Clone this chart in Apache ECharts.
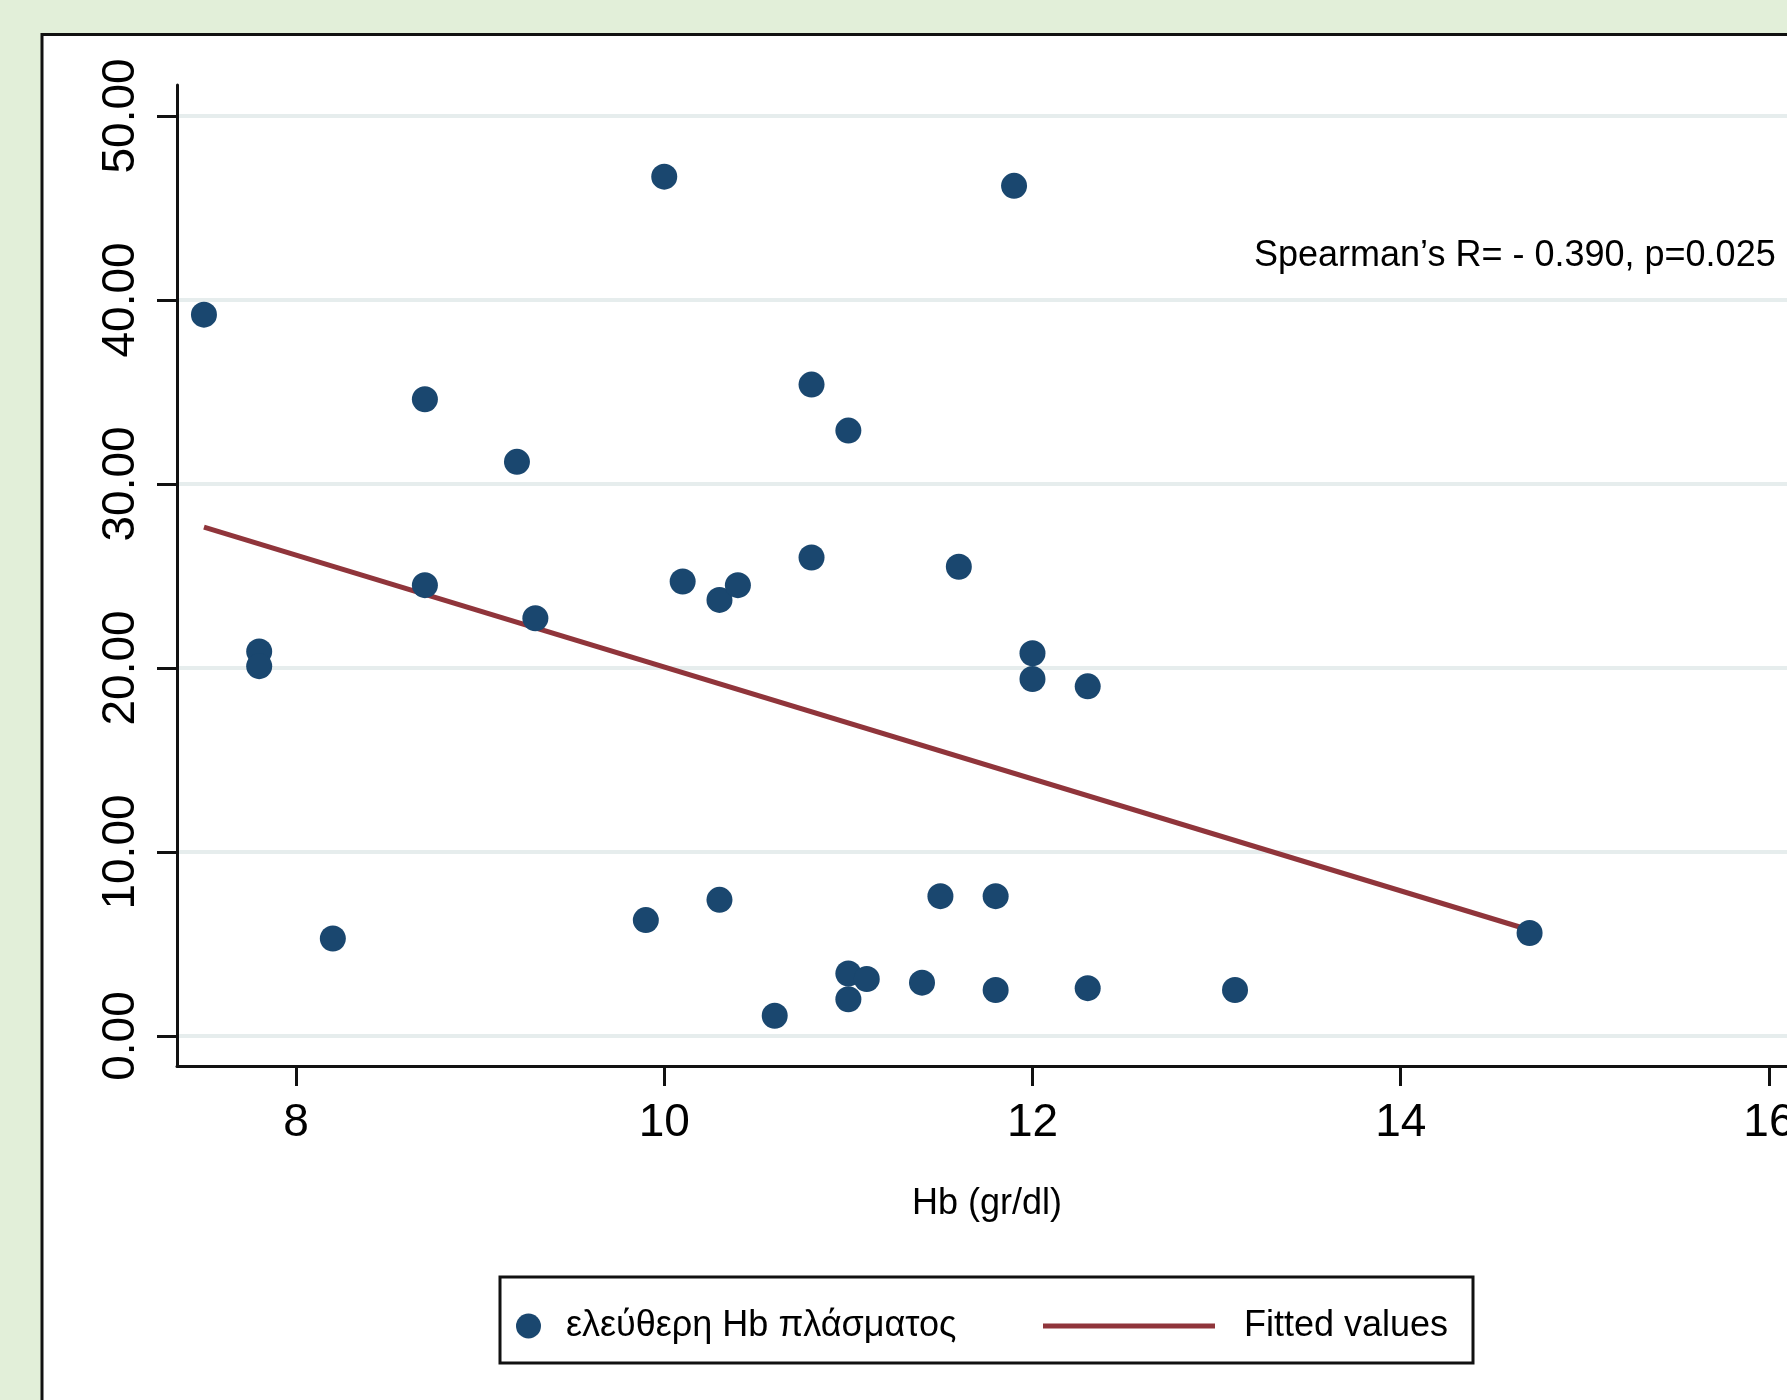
<!DOCTYPE html>
<html>
<head>
<meta charset="utf-8">
<script src="https://cdn.jsdelivr.net/npm/echarts@6/dist/echarts.min.js"></script>
<style>
  html, body { margin: 0; padding: 0; background: #e2efd9; }
  #chart { width: 1787px; height: 1400px; }
</style>
</head>
<body>
<div id="chart"></div>
<script>
// Hb (gr/dl) vs ελεύθερη Hb πλάσματος
var hb = [7.5, 10.0, 11.9, 8.7, 9.2, 10.8, 11.0, 8.7, 7.8, 7.8, 9.3, 10.1, 10.3, 10.4, 10.8, 11.6, 12.0,
          12.0, 12.3, 8.2, 9.9, 10.3, 11.5, 11.8, 14.7, 10.6, 11.0, 11.1, 11.0, 11.4, 11.8, 12.3, 13.1];
var plasmaHb = [39.2, 46.7, 46.2, 34.6, 31.2, 35.4, 32.9, 24.5, 20.9, 20.1, 22.7, 24.7, 23.7, 24.5, 26.0, 25.5, 20.8,
                19.4, 19.0, 5.3, 6.3, 7.4, 7.6, 7.6, 5.6, 1.1, 3.4, 3.1, 2.0, 2.9, 2.5, 2.6, 2.5];
// fitted line end points
var fitX = [7.5, 14.7];
var fitY = [27.65, 5.76];
var xTicks = [8, 10, 12, 14, 16];
var yTicks = [0, 10, 20, 30, 40, 50];

var FONT = "'Liberation Sans', Arial, sans-serif";

(function () {
    var myChart = echarts.init(document.getElementById('chart'));

    var pts = [];
    for (var i in hb) {
        pts.push([hb[i], plasmaHb[i]]);
    }
    var fit = [];
    for (var j in fitX) {
        fit.push([fitX[j], fitY[j]]);
    }

    var option = {
        backgroundColor: '#e2efd9',
        animation: false,
        title: {
            text: 'Spearman\u2019s R= - 0.390, p=0.025',
            left: 1254,
            top: 236,
            padding: 0,
            textStyle: { fontFamily: FONT, fontSize: 36, fontWeight: 'normal', color: '#000', lineHeight: 40 }
        },
        graphic: [
            // white panel with black frame
            { type: 'rect', z: -10, shape: { x: 42, y: 34.5, width: 2000, height: 2000 },
              style: { fill: '#fff', stroke: '#111', lineWidth: 3 } },
            // legend frame
            { type: 'rect', z: -5, shape: { x: 500, y: 1277, width: 973, height: 86 },
              style: { fill: '#fff', stroke: '#111', lineWidth: 3 } }
        ],
        legend: [{
            data: [{ name: 'ελεύθερη Hb πλάσματος', icon: 'circle' }],
            left: 516, top: 1308, padding: 0,
            itemWidth: 25, itemHeight: 25,
            textStyle: { fontFamily: FONT, fontSize: 36, color: '#000', lineHeight: 25, padding: [0, 0, 0, 20] }
        }, {
            data: [{ name: 'Fitted values', icon: 'rect' }],
            left: 1043, top: 1308, padding: 0,
            itemWidth: 172, itemHeight: 5,
            itemStyle: { color: '#90353b' },
            textStyle: { fontFamily: FONT, fontSize: 36, color: '#000', lineHeight: 24, padding: [0, 0, 0, 24] }
        }],
        grid: { left: 177, top: 85, width: 1684, height: 981, outerBoundsMode: 'none' },
        xAxis: {
            type: 'value',
            min: 7.3536, max: 16.5,
            name: 'Hb (gr/dl)',
            nameLocation: 'middle',
            nameGap: 120,
            nameTextStyle: { fontFamily: FONT, fontSize: 36, color: '#000', padding: [0, 64, 0, 0] },
            axisLine: { onZero: false, lineStyle: { color: '#111', width: 3 } },
            axisTick: { show: true, inside: false, length: 20, customValues: xTicks, lineStyle: { color: '#111', width: 3 } },
            axisLabel: { customValues: xTicks, margin: 34, fontFamily: FONT, fontSize: 46, color: '#000' },
            splitLine: { show: false }
        },
        yAxis: {
            type: 'value',
            min: -1.63, max: 51.68,
            axisLine: { show: true, onZero: false, lineStyle: { color: '#111', width: 3 } },
            axisTick: { show: true, inside: false, length: 20, customValues: yTicks, lineStyle: { color: '#111', width: 3 } },
            axisLabel: {
                customValues: yTicks, rotate: 90, margin: 33,
                fontFamily: FONT, fontSize: 46, color: '#000',
                formatter: function (v) { return v.toFixed(2); }
            },
            splitLine: { show: true, lineStyle: { color: '#e6eded', width: 4 } }
        },
        series: [{
            name: 'ελεύθερη Hb πλάσματος',
            type: 'scatter',
            symbol: 'circle',
            symbolSize: 26,
            itemStyle: { color: '#1a476f', opacity: 1 },
            data: pts,
            z: 3
        }, {
            name: 'Fitted values',
            type: 'line',
            symbol: 'none',
            lineStyle: { color: '#90353b', width: 5 },
            itemStyle: { color: '#90353b' },
            data: fit,
            z: 2
        }]
    };
    myChart.setOption(option);
})();
</script>
</body>
</html>
